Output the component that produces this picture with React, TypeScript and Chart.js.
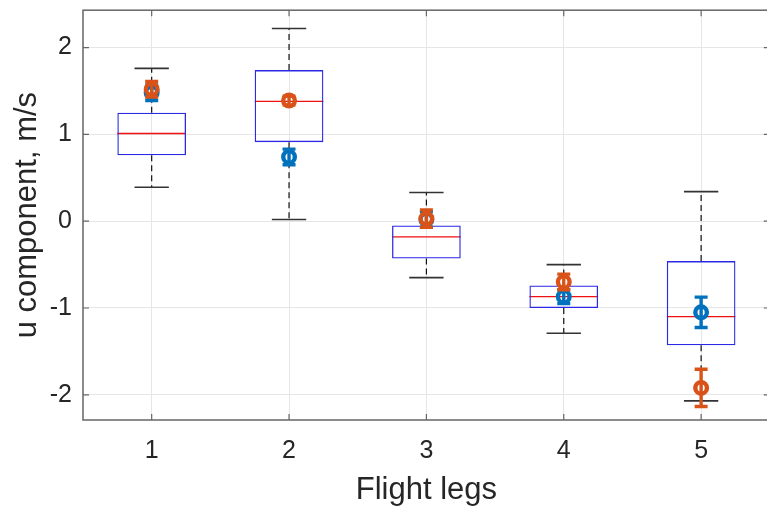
import React, { useEffect, useRef } from 'react';
import { Chart, registerables } from 'chart.js';

Chart.register(...registerables);

// ---- data ----
const categories = ['1', '2', '3', '4', '5'];
const whiskerLow = [0.39, 0.02, -0.65, -1.29, -2.07];
const q1 = [0.76, 0.91, -0.43, -1.0, -1.43];
const medians = [1.01, 1.38, -0.18, -0.87, -1.1];
const q3 = [1.25, 1.74, -0.05, -0.74, -0.46];
const whiskerHigh = [1.76, 2.22, 0.33, -0.5, 0.34];
const blueMean = [1.48, 0.74, 0.02, -0.87, -1.05];
const blueErr = [0.09, 0.09, 0.09, 0.08, 0.175];
const orangeMean = [1.52, 1.39, 0.03, -0.7, -1.92];
const orangeErr = [0.09, 0.05, 0.1, 0.09, 0.215];
const yTicks = [-2, -1, 0, 1, 2];

const BLUE = '#0072BD';
const ORANGE = '#D95319';
const FONT = '"Liberation Sans", Arial, Helvetica, sans-serif';
const TEXT = '#262626';

const errByDataset: Record<number, number[]> = { 1: blueErr, 2: orangeErr };

const boxPlugin = {
  id: 'boxExtras',
  beforeDatasetsDraw(chart: any) {
    const ctx = chart.ctx;
    const y = chart.scales.y;
    const boxes = chart.getDatasetMeta(0).data;
    ctx.save();
    boxes.forEach((bar: any, i: number) => {
      const cx = bar.x;
      const half = bar.width / 2;
      // whiskers (dashed)
      ctx.strokeStyle = '#111';
      ctx.lineWidth = 1.2;
      ctx.setLineDash([6, 4]);
      ctx.beginPath();
      ctx.moveTo(cx, y.getPixelForValue(q3[i]));
      ctx.lineTo(cx, y.getPixelForValue(whiskerHigh[i]));
      ctx.moveTo(cx, y.getPixelForValue(q1[i]));
      ctx.lineTo(cx, y.getPixelForValue(whiskerLow[i]));
      ctx.stroke();
      ctx.setLineDash([]);
      // caps
      ctx.strokeStyle = '#333';
      ctx.lineWidth = 1.6;
      ctx.beginPath();
      const hi = y.getPixelForValue(whiskerHigh[i]);
      const lo = y.getPixelForValue(whiskerLow[i]);
      ctx.moveTo(cx - half / 2, hi);
      ctx.lineTo(cx + half / 2, hi);
      ctx.moveTo(cx - half / 2, lo);
      ctx.lineTo(cx + half / 2, lo);
      ctx.stroke();
      // median
      ctx.strokeStyle = '#f01010';
      ctx.lineWidth = 1.3;
      const m = y.getPixelForValue(medians[i]);
      ctx.beginPath();
      ctx.moveTo(cx - half, m);
      ctx.lineTo(cx + half, m);
      ctx.stroke();
    });
    ctx.restore();
  },
  afterDatasetDraw(chart: any, args: any) {
    const errs = errByDataset[args.index];
    if (!errs) return;
    const ctx = chart.ctx;
    const y = chart.scales.y;
    const ds = chart.data.datasets[args.index];
    ctx.save();
    ctx.strokeStyle = ds.borderColor;
    ctx.lineWidth = 3.4;
    args.meta.data.forEach((pt: any, i: number) => {
      const v = ds.data[i];
      const top = y.getPixelForValue(v + errs[i]);
      const bot = y.getPixelForValue(v - errs[i]);
      ctx.beginPath();
      ctx.moveTo(pt.x, top);
      ctx.lineTo(pt.x, bot);
      ctx.moveTo(pt.x - 6.5, top);
      ctx.lineTo(pt.x + 6.5, top);
      ctx.moveTo(pt.x - 6.5, bot);
      ctx.lineTo(pt.x + 6.5, bot);
      ctx.stroke();
    });
    ctx.restore();
  },
  afterDraw(chart: any) {
    const ctx = chart.ctx;
    const { left, right, top, bottom } = chart.chartArea;
    const x = chart.scales.x;
    const y = chart.scales.y;
    const tl = 6;
    ctx.save();
    ctx.strokeStyle = '#666';
    ctx.lineWidth = 1.5;
    ctx.strokeRect(left, top, right - left, bottom - top);
    ctx.lineWidth = 1.2;
    ctx.beginPath();
    yTicks.forEach((v) => {
      const py = y.getPixelForValue(v);
      ctx.moveTo(left, py);
      ctx.lineTo(left + tl, py);
      ctx.moveTo(right, py);
      ctx.lineTo(right - tl, py);
    });
    categories.forEach((_, i) => {
      const px = x.getPixelForValue(i);
      ctx.moveTo(px, bottom);
      ctx.lineTo(px, bottom - tl);
      ctx.moveTo(px, top);
      ctx.lineTo(px, top + tl);
    });
    ctx.stroke();
    ctx.restore();
  },
};

export default function App() {
  const ref = useRef<HTMLCanvasElement>(null);
  useEffect(() => {
    const canvas = ref.current!;
    const chart = new Chart(canvas, {
      type: 'bar',
      data: {
        labels: categories,
        datasets: [
          {
            type: 'bar',
            data: q1.map((v, i) => [v, q3[i]]) as any,
            backgroundColor: 'rgba(0,0,0,0)',
            borderColor: '#2a2ae6',
            borderWidth: 1.3,
            borderSkipped: false,
            barPercentage: 0.5,
            categoryPercentage: 1,
            order: 2,
          } as any,
          {
            type: 'line',
            data: blueMean,
            showLine: false,
            borderColor: BLUE,
            backgroundColor: 'rgba(0,0,0,0)',
            pointStyle: 'circle',
            pointRadius: 5.8,
            pointBorderWidth: 4.4,
            pointBackgroundColor: 'rgba(0,0,0,0)',
            pointBorderColor: BLUE,
            order: 1,
          } as any,
          {
            type: 'line',
            data: orangeMean,
            showLine: false,
            borderColor: ORANGE,
            backgroundColor: 'rgba(0,0,0,0)',
            pointStyle: 'circle',
            pointRadius: 5.8,
            pointBorderWidth: 4.4,
            pointBackgroundColor: 'rgba(0,0,0,0)',
            pointBorderColor: ORANGE,
            order: 0,
          } as any,
        ],
      },
      options: {
        responsive: false,
        animation: false,
        devicePixelRatio: 1,
        layout: { padding: { left: 0, top: 10, right: 9, bottom: 0 } },
        plugins: {
          legend: { display: false },
          tooltip: { enabled: false },
        },
        scales: {
          x: {
            type: 'category',
            offset: true,
            grid: { offset: false, color: '#e6e6e6', lineWidth: 1, drawTicks: false },
            border: { display: false },
            ticks: {
              color: TEXT,
              font: { family: FONT, size: 25 },
              padding: 16,
              maxRotation: 0,
            },
            title: {
              display: true,
              text: 'Flight legs',
              color: TEXT,
              font: { family: FONT, size: 31, lineHeight: 1 },
              padding: { top: 0, bottom: 0.5 },
            },
            afterFit: (s: any) => {
              s.height = 86;
              s.paddingLeft = 0;
              s.paddingRight = 0;
            },
          },
          y: {
            type: 'linear',
            min: -2.29,
            max: 2.43,
            grid: { color: '#e6e6e6', lineWidth: 1, drawTicks: false },
            border: { display: false },
            afterBuildTicks: (s: any) => {
              s.ticks = yTicks.map((v) => ({ value: v }));
            },
            ticks: {
              color: TEXT,
              font: { family: FONT, size: 25 },
              padding: 11,
            },
            title: {
              display: true,
              text: 'u component, m/s',
              color: TEXT,
              font: { family: FONT, size: 31, lineHeight: 1 },
              padding: { top: 11.5, bottom: 0 },
            },
            afterFit: (s: any) => {
              s.width = 83;
              s.paddingTop = 0;
              s.paddingBottom = 0;
            },
          },
        },
      },
      plugins: [boxPlugin],
    });
    return () => chart.destroy();
  }, []);

  return (
    <div
      style={{
        position: 'fixed',
        left: 0,
        top: 0,
        width: 767,
        height: 506,
        overflow: 'hidden',
        background: '#fff',
      }}
    >
      <canvas ref={ref} width={780} height={506} style={{ width: 780, height: 506, display: 'block' }} />
    </div>
  );
}
